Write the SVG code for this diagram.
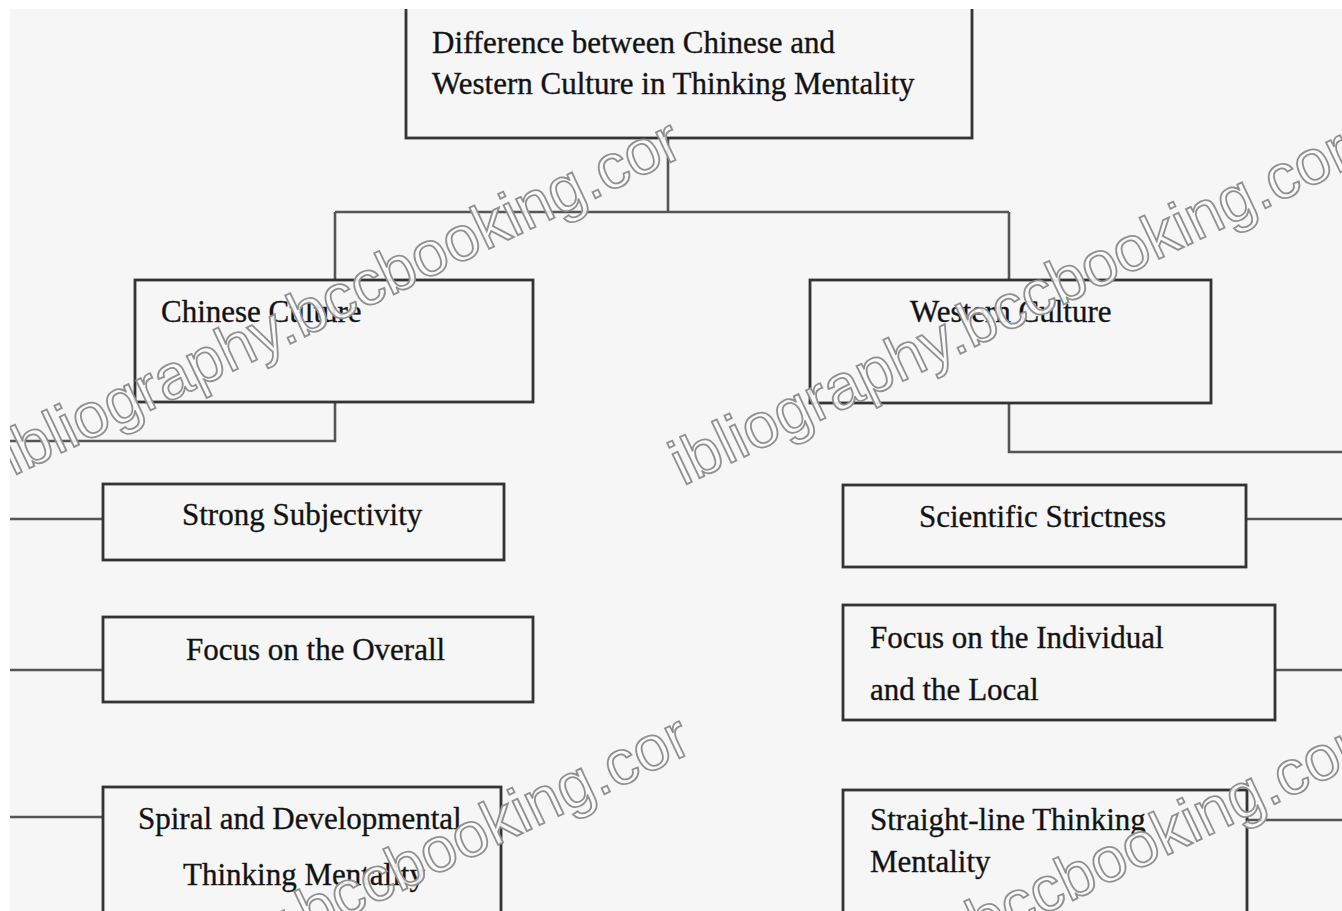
<svg xmlns="http://www.w3.org/2000/svg" width="1342" height="911" viewBox="0 0 1342 911">
<style>
.box{fill:none;stroke:#333;stroke-width:2.8}
.ln{fill:none;stroke:#555;stroke-width:2.6}
.t{font-family:"Liberation Serif","Times New Roman",serif;font-size:31px;fill:#111;stroke:#222;stroke-width:0.35}
.wm{font-family:"Liberation Sans",Arial,sans-serif;font-size:63px;fill:#fbfbfb;fill-opacity:0.9;stroke:#909090;stroke-width:1.8}
</style>
<defs>
<clipPath id="area"><rect x="10" y="9" width="1332" height="902"/></clipPath>
</defs>
<rect width="1342" height="911" fill="#ffffff"/>
<g clip-path="url(#area)">
<rect x="10" y="9" width="1332" height="902" fill="#f6f6f6"/>
<g id="connectors">
<path class="ln" d="M668 138 V212 M335 212 H1009 M335 212 V280 M1009 212 V280"/>
<path class="ln" d="M335 402 V441 H0"/>
<path class="ln" d="M1009 403 V452 H1342"/>
<path class="ln" d="M0 519 H103 M0 670 H103 M0 817 H103"/>
<path class="ln" d="M1246 519 H1342 M1275 670 H1342 M1247 820 H1342"/>
</g>
<g id="root">
<rect class="box" x="406" y="-5" width="566" height="143"/>
<text class="t" x="432" y="53">Difference between Chinese and</text>
<text class="t" x="432" y="94">Western Culture in Thinking Mentality</text>
</g>
<g id="chinese">
<rect class="box" x="135" y="280" width="398" height="122"/>
<text class="t" x="161" y="322">Chinese Culture</text>
</g>
<g id="western">
<rect class="box" x="810" y="280" width="401" height="123"/>
<text class="t" x="910" y="322">Western Culture</text>
</g>
<g id="strong">
<rect class="box" x="103" y="484" width="401" height="76"/>
<text class="t" x="182" y="525">Strong Subjectivity</text>
</g>
<g id="overall">
<rect class="box" x="103" y="617" width="430" height="85"/>
<text class="t" x="186" y="660">Focus on the Overall</text>
</g>
<g id="spiral">
<rect class="box" x="103" y="787" width="398" height="140"/>
<text class="t" x="138" y="829">Spiral and Developmental</text>
<text class="t" x="183" y="885">Thinking Mentality</text>
</g>
<g id="scientific">
<rect class="box" x="843" y="485" width="403" height="82"/>
<text class="t" x="919" y="527">Scientific Strictness</text>
</g>
<g id="individual">
<rect class="box" x="843" y="605" width="432" height="115"/>
<text class="t" x="870" y="648">Focus on the Individual</text>
<text class="t" x="870" y="700">and the Local</text>
</g>
<g id="straight">
<rect class="box" x="843" y="790" width="404" height="140"/>
<text class="t" x="870" y="830">Straight-line Thinking</text>
<text class="t" x="870" y="872">Mentality</text>
</g>
<g id="watermarks">
<text class="wm" transform="translate(13 476) rotate(-25.5)" textLength="745" lengthAdjust="spacingAndGlyphs">ibliography.bccbooking.cor</text>
<text class="wm" transform="translate(683 486) rotate(-25.5)" textLength="745" lengthAdjust="spacingAndGlyphs">ibliography.bccbooking.cor</text>
<text class="wm" transform="translate(22 1072) rotate(-25.5)" textLength="745" lengthAdjust="spacingAndGlyphs">ibliography.bccbooking.cor</text>
<text class="wm" transform="translate(692 1082) rotate(-25.5)" textLength="745" lengthAdjust="spacingAndGlyphs">ibliography.bccbooking.cor</text>
</g>
</g>
</svg>
